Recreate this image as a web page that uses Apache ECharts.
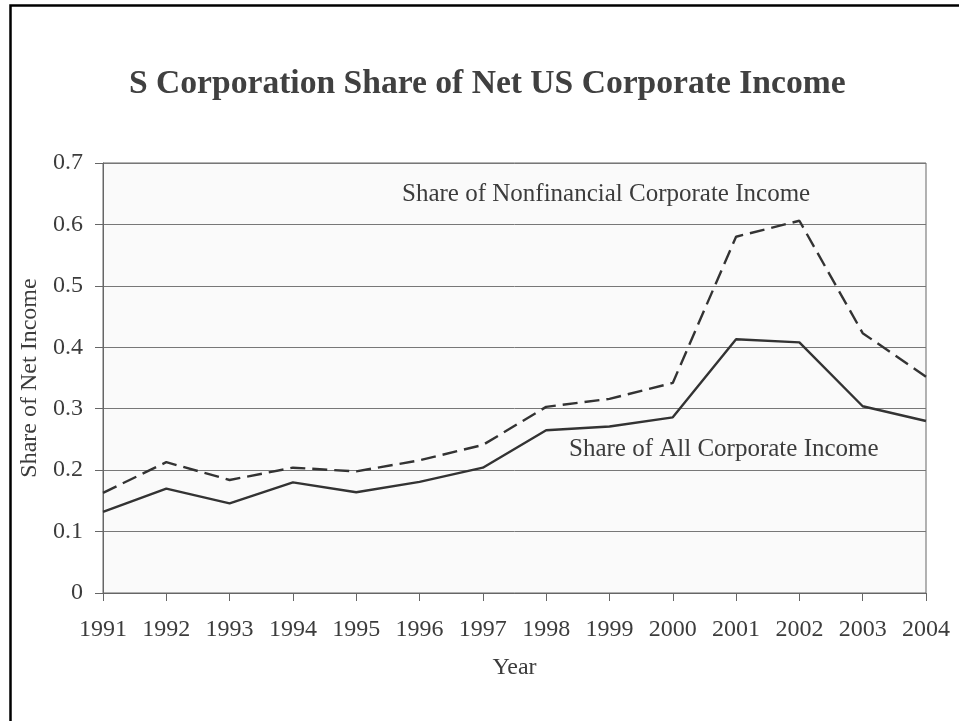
<!DOCTYPE html>
<html>
<head>
<meta charset="utf-8">
<script src="https://cdn.jsdelivr.net/npm/echarts@6/dist/echarts.min.js"></script>
<style>
  html, body { margin: 0; padding: 0; background: #ffffff; }
  #chart { width: 959px; height: 721px; }
</style>
</head>
<body>
<div id="chart"></div>
<script>
// Years on the horizontal axis
const years = ['1991', '1992', '1993', '1994', '1995', '1996', '1997',
               '1998', '1999', '2000', '2001', '2002', '2003', '2004'];

// S corporation share of all corporate net income
const shareAll = [0.132, 0.170, 0.146, 0.180, 0.164, 0.181, 0.204,
                  0.265, 0.271, 0.286, 0.413, 0.408, 0.304, 0.280];

// S corporation share of nonfinancial corporate net income
const shareNonfinancial = [0.163, 0.213, 0.184, 0.204, 0.198, 0.216, 0.241,
                           0.303, 0.316, 0.342, 0.580, 0.606, 0.423, 0.352];

const FONT = '"Liberation Serif", "Times New Roman", serif';
const TEXT = '#3c3c3c';
const AXIS = '#666666';

const chart = echarts.init(document.getElementById('chart'), null, { renderer: 'canvas' });

chart.setOption({
  animation: false,
  backgroundColor: '#ffffff',
  title: {
    text: 'S Corporation Share of Net US Corporate Income',
    left: 129,
    top: 67,
    padding: 0,
    textStyle: { fontFamily: FONT, fontSize: 33.6, fontWeight: 'bold', color: '#404040' }
  },
  grid: {
    left: 103, top: 163, width: 823, height: 430,
    show: true, backgroundColor: '#fafafa', borderColor: AXIS, borderWidth: 1
  },
  xAxis: {
    type: 'category',
    data: years,
    boundaryGap: false,
    name: 'Year',
    nameLocation: 'middle',
    nameGap: 63,
    nameTextStyle: { fontFamily: FONT, fontSize: 24, color: TEXT },
    axisLine: { lineStyle: { color: AXIS, width: 1 } },
    axisTick: { show: true, length: 8, inside: false, lineStyle: { color: AXIS } },
    axisLabel: { fontFamily: FONT, fontSize: 24, color: TEXT, margin: 25, interval: 0 },
    splitLine: { show: false }
  },
  yAxis: {
    type: 'value',
    min: 0, max: 0.7, interval: 0.1,
    name: 'Share of Net Income',
    nameLocation: 'middle',
    nameRotate: 90,
    nameGap: 54,
    nameTextStyle: { fontFamily: FONT, fontSize: 24, color: TEXT },
    axisLine: { show: true, lineStyle: { color: AXIS, width: 1 } },
    axisTick: { show: true, length: 8, lineStyle: { color: AXIS } },
    axisLabel: { fontFamily: FONT, fontSize: 24, color: TEXT, margin: 20 },
    splitLine: { show: true, lineStyle: { color: '#777777', width: 1 } }
  },
  series: [
    {
      name: 'Share of Nonfinancial Corporate Income',
      type: 'line',
      data: shareNonfinancial,
      symbol: 'none',
      lineStyle: { color: '#333333', width: 2.4, type: [15, 7] },
      z: 3
    },
    {
      name: 'Share of All Corporate Income',
      type: 'line',
      data: shareAll,
      symbol: 'none',
      lineStyle: { color: '#333333', width: 2.4, type: 'solid' },
      z: 4
    }
  ],
  graphic: [
    {
      type: 'polyline',
      silent: true,
      shape: { points: [[10.5, 725], [10.5, 5.5], [965, 5.5]] },
      style: { stroke: '#000000', lineWidth: 2.5, fill: null }
    },
    {
      type: 'text',
      left: 402, top: 182,
      style: { text: 'Share of Nonfinancial Corporate Income', font: '25px ' + FONT, fill: TEXT }
    },
    {
      type: 'text',
      left: 569, top: 437,
      style: { text: 'Share of All Corporate Income', font: '25px ' + FONT, fill: TEXT }
    }
  ]
});
</script>
</body>
</html>
